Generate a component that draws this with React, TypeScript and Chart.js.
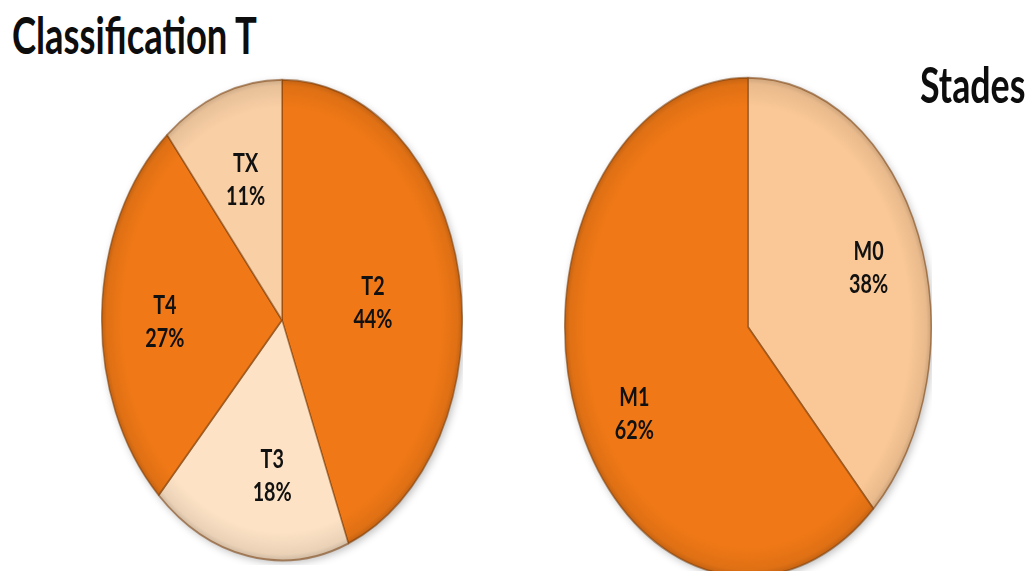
import React, { useEffect, useRef } from "react";
import { Chart, registerables } from "chart.js";

Chart.register(...registerables);

// Classification T
const tLabels = ["T2", "T3", "T4", "TX"];
const tValues = [44, 18, 27, 11];
const tColors = ["#F07816", "#FDE2C5", "#F07816", "#F9CFA5"];
const tLabelRadius = [0.51, 0.65, 0.65, 0.62];
const tLabelTurn = [2.5, -6, -2.5, 0.8];

// Stades
const mLabels = ["M0", "M1"];
const mValues = [38, 62];
const mColors = ["#FAC896", "#F07816"];
const mLabelRadius = [0.7, 0.71];
const mLabelTurn = [1.6, -7.6];

const FONT = "Lato, 'Open Sans', 'DejaVu Sans', sans-serif";

function darken(hex: string, f: number) {
  const n = parseInt(hex.slice(1), 16);
  const r = Math.round(((n >> 16) & 255) * f);
  const g = Math.round(((n >> 8) & 255) * f);
  const b = Math.round((n & 255) * f);
  return `rgb(${r},${g},${b})`;
}

function shade(chart: any, base: string) {
  const a = chart.chartArea;
  if (!a) return base;
  const cx = (a.left + a.right) / 2;
  const cy = (a.top + a.bottom) / 2;
  const r = Math.min(a.right - a.left, a.bottom - a.top) / 2;
  const g = chart.ctx.createRadialGradient(cx, cy, 0, cx, cy, r);
  g.addColorStop(0, base);
  g.addColorStop(0.88, base);
  g.addColorStop(0.97, darken(base, 0.93));
  g.addColorStop(1, darken(base, 0.8));
  return g;
}

// Squashes the round pie into an upright ellipse, with a soft drop shadow
const ellipsePlugin = {
  id: "ellipse",
  beforeDatasetsDraw(chart: any, _args: any, opts: any) {
    const arc = chart.getDatasetMeta(0).data[0];
    if (!arc) return;
    const { x, y, outerRadius } = arc.getProps(["x", "y", "outerRadius"], true);
    const ctx = chart.ctx;
    ctx.save();
    ctx.translate(x, y);
    ctx.scale(1, opts.ratio);
    ctx.translate(-x, -y);
    ctx.save();
    ctx.shadowColor = "rgba(0,0,0,0.28)";
    ctx.shadowBlur = 8;
    ctx.shadowOffsetX = 2;
    ctx.shadowOffsetY = 3;
    ctx.beginPath();
    ctx.arc(x, y, outerRadius - 0.5, 0, Math.PI * 2);
    ctx.fillStyle = "#ffffff";
    ctx.fill();
    ctx.restore();
  },
  afterDatasetsDraw(chart: any) {
    chart.ctx.restore();
  },
};

// Category name and percentage inside each slice
const sliceLabelPlugin = {
  id: "sliceLabels",
  afterDraw(chart: any, _args: any, opts: any) {
    const ctx = chart.ctx;
    const meta = chart.getDatasetMeta(0);
    const ds = chart.data.datasets[0];
    const ratio = chart.options.plugins.ellipse.ratio;
    meta.data.forEach((arc: any, i: number) => {
      const { x, y, startAngle, endAngle, outerRadius } = arc.getProps(
        ["x", "y", "startAngle", "endAngle", "outerRadius"],
        true
      );
      const mid = (startAngle + endAngle) / 2 + (opts.turn[i] * Math.PI) / 180;
      const f = opts.radius[i];
      const px = x + Math.cos(mid) * outerRadius * f;
      const py = y + Math.sin(mid) * outerRadius * f * ratio;
      ctx.save();
      ctx.translate(px, py);
      ctx.scale(0.76, 1);
      ctx.fillStyle = "#111111";
      ctx.font = `bold 26px ${FONT}`;
      ctx.textAlign = "center";
      ctx.textBaseline = "middle";
      ctx.fillText(chart.data.labels[i], 0, -16);
      ctx.fillText(`${ds.data[i]}%`, 0, 17);
      ctx.restore();
    });
  },
};

function PieChart(props: {
  labels: string[];
  values: number[];
  colors: string[];
  labelRadius: number[];
  labelTurn: number[];
  ratio: number;
  width: number;
  height: number;
  left: number;
  top: number;
}) {
  const ref = useRef<HTMLCanvasElement | null>(null);
  useEffect(() => {
    if (!ref.current) return;
    const colors = props.colors;
    const chart = new Chart(ref.current, {
      type: "pie",
      data: {
        labels: props.labels,
        datasets: [
          {
            data: props.values,
            backgroundColor: (c: any) => shade(c.chart, colors[c.dataIndex]),
            borderColor: "rgba(120,60,10,0.55)",
            borderWidth: 1.5,
            clip: false,
          } as any,
        ],
      },
      options: {
        responsive: false,
        animation: false,
        events: [],
        layout: { padding: 0 },
        plugins: {
          legend: { display: false },
          tooltip: { enabled: false },
          ellipse: { ratio: props.ratio },
          sliceLabels: { radius: props.labelRadius, turn: props.labelTurn },
        } as any,
      },
      plugins: [ellipsePlugin, sliceLabelPlugin],
    });
    return () => chart.destroy();
  }, []);
  return (
    <canvas
      ref={ref}
      width={props.width}
      height={props.height}
      style={{ position: "absolute", left: props.left, top: props.top }}
    />
  );
}

export default function App() {
  useEffect(() => {
    document.body.style.margin = "0";
  }, []);
  const titleStyle: React.CSSProperties = {
    position: "absolute",
    fontFamily: FONT,
    fontWeight: 700,
    lineHeight: 1,
    whiteSpace: "nowrap",
    color: "#0d0d0d",
    transformOrigin: "left top",
  };
  return (
    <div
      style={{
        position: "relative",
        width: 1035,
        height: 571,
        overflow: "hidden",
        background: "#ffffff",
      }}
    >
      <PieChart
        labels={tLabels}
        values={tValues}
        colors={tColors}
        labelRadius={tLabelRadius}
        labelTurn={tLabelTurn}
        ratio={240 / 180}
        width={362}
        height={490}
        left={101}
        top={75}
      />
      <PieChart
        labels={mLabels}
        values={mValues}
        colors={mColors}
        labelRadius={mLabelRadius}
        labelTurn={mLabelTurn}
        ratio={249 / 183}
        width={368}
        height={520}
        left={564}
        top={67}
      />
      <div style={{ ...titleStyle, left: 12, top: 8, fontSize: 52, transform: "scaleX(0.70)" }}>
        Classification T
      </div>
      <div style={{ ...titleStyle, left: 920, top: 60, fontSize: 49, transform: "scaleX(0.73)" }}>
        Stades
      </div>
    </div>
  );
}
